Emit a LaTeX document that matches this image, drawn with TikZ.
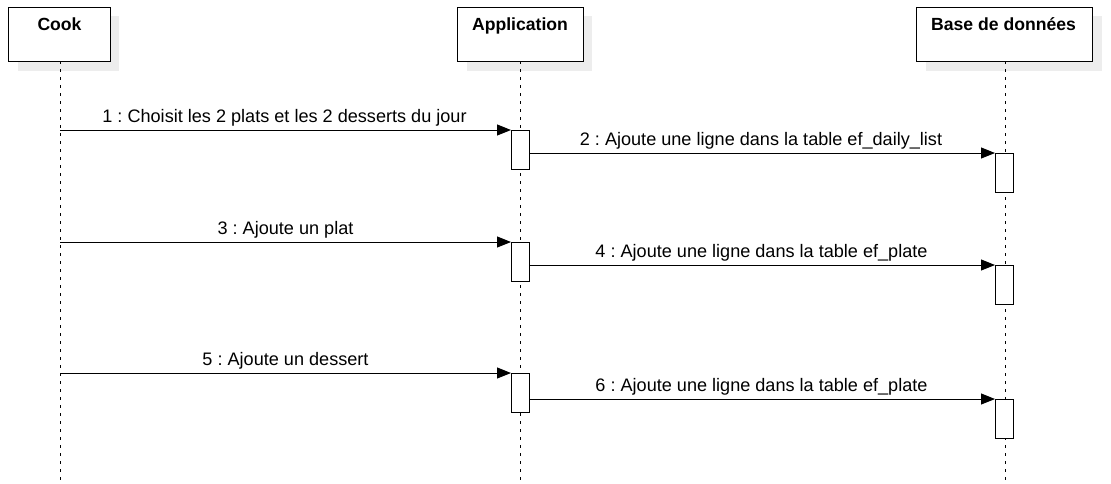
\documentclass[tikz,border=0pt]{standalone}
\usepackage{fontspec}
\setmainfont{Liberation Sans}
\usetikzlibrary{arrows.meta}
\begin{document}
\frenchspacing
\begin{tikzpicture}[x=1pt,y=-1pt,
  head/.style={draw=black,line width=1.2pt,fill=white,minimum height=54pt,inner sep=0pt},
  headtxt/.style={font=\fontsize{17.6}{19}\selectfont\bfseries,anchor=base,inner sep=0pt},
  shadowbox/.style={fill=black!7,draw=none},
  life/.style={black,line width=1pt,dash pattern=on 3pt off 5pt},
  act/.style={draw=black,line width=1pt,fill=white,minimum width=18pt,minimum height=39pt,inner sep=0pt,anchor=north west},
  msg/.style={line width=1pt,-{Triangle[length=14pt,width=11pt]}},
  lbl/.style={font=\fontsize{18.1}{20}\selectfont,anchor=base,inner sep=0pt,yshift=8pt}]
\useasboundingbox (0,0) rectangle (1111,483);
% shadows
\fill[shadowbox] (18,16) rectangle (119,71);
\fill[shadowbox] (467,16) rectangle (592,71);
\fill[shadowbox] (926,16) rectangle (1102,71);
% lifelines
\coordinate (cT) at (60,61); \coordinate (cB) at (60,480);
\coordinate (aT) at (520,61); \coordinate (aB) at (520,480);
\coordinate (bT) at (1005,61); \coordinate (bB) at (1005,480);
\draw[life] (cT) -- (cB);
\draw[life] (aT) -- (aB);
\draw[life] (bT) -- (bB);
% headers
\node[head,minimum width=102pt,anchor=north west] (cook) at (8,7) {};
\node[headtxt] at (59.5,30) {Cook};
\node[head,minimum width=126pt,anchor=north west] (app) at (457,7) {};
\node[headtxt] at (520,30) {Application};
\node[head,minimum width=176pt,anchor=north west] (db) at (916,7) {};
\node[headtxt] at (1003.5,30) {Base de données};
% activations
\node[act] (a1) at (511,130) {};
\node[act] (b1) at (995,153) {};
\node[act] (a2) at (511,242) {};
\node[act] (b2) at (995,265) {};
\node[act] (a3) at (511,373) {};
\node[act] (b3) at (995,399) {};
% message start coordinates
\coordinate (c1) at (60,130);
\coordinate (c2) at (60,242);
\coordinate (c3) at (60,373);
% messages
\draw[msg] (c1) -- node[lbl,xshift=-1pt] {1 : Choisit les 2 plats et les 2 desserts du jour} (a1.north west);
\draw[msg] (a1.east |- b1.north west) -- node[lbl,xshift=-1.5pt] {2 : Ajoute une ligne dans la table ef\_daily\_list} (b1.north west);
\draw[msg] (c2) -- node[lbl] {3 : Ajoute un plat} (a2.north west);
\draw[msg] (a2.east |- b2.north west) -- node[lbl,xshift=-1pt] {4 : Ajoute une ligne dans la table ef\_plate} (b2.north west);
\draw[msg] (c3) -- node[lbl] {5 : Ajoute un dessert} (a3.north west);
\draw[msg] (a3.east |- b3.north west) -- node[lbl,xshift=-1pt] {6 : Ajoute une ligne dans la table ef\_plate} (b3.north west);
\end{tikzpicture}
\end{document}
